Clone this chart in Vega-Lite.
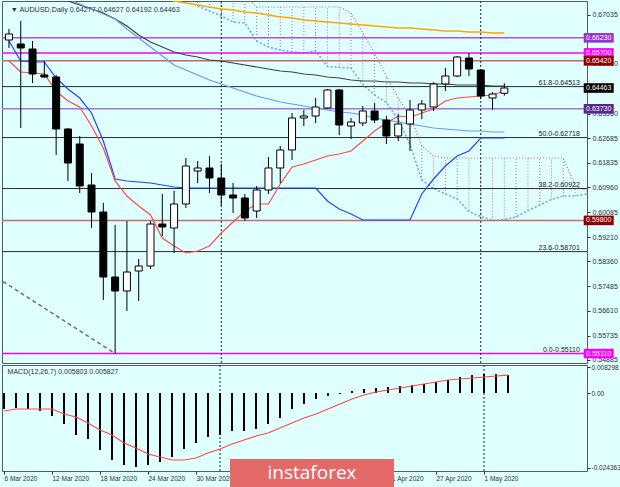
{
  "$schema": "https://vega.github.io/schema/vega-lite/v6.json",
  "padding": 0,
  "background": "#e0ffff",
  "spacing": 2,
  "bounds": "flush",
  "resolve": {"scale": {"x": "independent", "y": "independent"}},
  "config": {
    "view": {"stroke": "#5a5a5a", "fill": "#e0ffff"},
    "axis": {"labelFont": "Liberation Sans", "labelFontSize": 7, "labelColor": "#303030", "tickColor": "#303030", "domain": false, "grid": false},
    "text": {"font": "Liberation Sans"}
  },
  "datasets": {
    "candles": [
      {"i":0,"o":0.66154,"h":0.66542,"l":0.65873,"c":0.66366},
      {"i":1,"o":0.66014,"h":0.66824,"l":0.63055,"c":0.65873},
      {"i":2,"o":0.65837,"h":0.66119,"l":0.6464,"c":0.64957},
      {"i":3,"o":0.64922,"h":0.65415,"l":0.64816,"c":0.64851},
      {"i":4,"o":0.64851,"h":0.64922,"l":0.62104,"c":0.63019},
      {"i":5,"o":0.63019,"h":0.63055,"l":0.61188,"c":0.61822},
      {"i":6,"o":0.62491,"h":0.62773,"l":0.60765,"c":0.61012},
      {"i":7,"o":0.61047,"h":0.6147,"l":0.59532,"c":0.60096},
      {"i":8,"o":0.60096,"h":0.60413,"l":0.56996,"c":0.57806},
      {"i":9,"o":0.57806,"h":0.59638,"l":0.5511,"c":0.57313},
      {"i":10,"o":0.57313,"h":0.59779,"l":0.56609,"c":0.57982},
      {"i":11,"o":0.58018,"h":0.5844,"l":0.56961,"c":0.58194},
      {"i":12,"o":0.58194,"h":0.59779,"l":0.58088,"c":0.59673},
      {"i":13,"o":0.59673,"h":0.6073,"l":0.5925,"c":0.59568},
      {"i":14,"o":0.59532,"h":0.60836,"l":0.58652,"c":0.60378},
      {"i":15,"o":0.60378,"h":0.61998,"l":0.60237,"c":0.61716},
      {"i":16,"o":0.6154,"h":0.61892,"l":0.61117,"c":0.61646},
      {"i":17,"o":0.61646,"h":0.62068,"l":0.60765,"c":0.61293},
      {"i":18,"o":0.61293,"h":0.61787,"l":0.60307,"c":0.60695},
      {"i":19,"o":0.60695,"h":0.61117,"l":0.60061,"c":0.60589},
      {"i":20,"o":0.60589,"h":0.6073,"l":0.59779,"c":0.59885},
      {"i":21,"o":0.60131,"h":0.61012,"l":0.59885,"c":0.60871},
      {"i":22,"o":0.60871,"h":0.62033,"l":0.6073,"c":0.61646},
      {"i":23,"o":0.61646,"h":0.62421,"l":0.61117,"c":0.6228},
      {"i":24,"o":0.6228,"h":0.63583,"l":0.61928,"c":0.63407},
      {"i":25,"o":0.63407,"h":0.63689,"l":0.63125,"c":0.63477},
      {"i":26,"o":0.63477,"h":0.64111,"l":0.63231,"c":0.63794},
      {"i":27,"o":0.63759,"h":0.64428,"l":0.63724,"c":0.64393},
      {"i":28,"o":0.64393,"h":0.64428,"l":0.62808,"c":0.6316},
      {"i":29,"o":0.63125,"h":0.63407,"l":0.62667,"c":0.63266},
      {"i":30,"o":0.63231,"h":0.6383,"l":0.63125,"c":0.63653},
      {"i":31,"o":0.63653,"h":0.63935,"l":0.63231,"c":0.63336},
      {"i":32,"o":0.63336,"h":0.63477,"l":0.62491,"c":0.62773},
      {"i":33,"o":0.62773,"h":0.63548,"l":0.62597,"c":0.63196},
      {"i":34,"o":0.63196,"h":0.64041,"l":0.62245,"c":0.63689},
      {"i":35,"o":0.63689,"h":0.64041,"l":0.63372,"c":0.639},
      {"i":36,"o":0.63794,"h":0.64675,"l":0.63653,"c":0.64605},
      {"i":37,"o":0.64605,"h":0.65168,"l":0.64358,"c":0.64886},
      {"i":38,"o":0.64886,"h":0.65591,"l":0.64851,"c":0.65556},
      {"i":39,"o":0.6552,"h":0.65696,"l":0.64886,"c":0.65133},
      {"i":40,"o":0.65098,"h":0.65133,"l":0.64076,"c":0.64182},
      {"i":41,"o":0.64111,"h":0.64323,"l":0.63689,"c":0.64252},
      {"i":42,"o":0.64277,"h":0.64627,"l":0.64192,"c":0.64463}
    ],
    "ind": [
      {"i":0,"ma1":null,"ma2":null,"ma3":null,"tk":0.65415,"kj":0.66119},
      {"i":1,"ma1":null,"ma2":null,"ma3":null,"tk":0.65027,"kj":0.65415},
      {"i":2,"ma1":null,"ma2":null,"ma3":null,"tk":0.64992,"kj":0.65379},
      {"i":3,"ma1":0.681,"ma2":null,"ma3":null,"tk":0.64957,"kj":0.65379},
      {"i":4,"ma1":0.67775,"ma2":0.6802,"ma3":null,"tk":0.64358,"kj":0.64816},
      {"i":5,"ma1":0.67528,"ma2":0.67599,"ma3":null,"tk":0.64006,"kj":0.64428},
      {"i":6,"ma1":0.67387,"ma2":0.67422,"ma3":null,"tk":0.63794,"kj":0.64111},
      {"i":7,"ma1":0.67246,"ma2":0.67246,"ma3":null,"tk":0.63125,"kj":0.63583},
      {"i":8,"ma1":0.67105,"ma2":0.6707,"ma3":null,"tk":0.6235,"kj":0.62597},
      {"i":9,"ma1":0.66894,"ma2":0.66894,"ma3":null,"tk":0.61188,"kj":0.61258},
      {"i":10,"ma1":0.66648,"ma2":0.66542,"ma3":null,"tk":0.60659,"kj":0.61188},
      {"i":11,"ma1":0.66331,"ma2":0.66225,"ma3":null,"tk":0.60307,"kj":0.61153},
      {"i":12,"ma1":0.66084,"ma2":0.65908,"ma3":null,"tk":0.5999,"kj":0.61117},
      {"i":13,"ma1":0.65908,"ma2":0.65591,"ma3":0.67634,"tk":0.5918,"kj":0.61047},
      {"i":14,"ma1":0.65732,"ma2":0.65274,"ma3":0.67528,"tk":0.58898,"kj":0.60976},
      {"i":15,"ma1":0.65626,"ma2":0.65098,"ma3":0.67458,"tk":0.58652,"kj":0.60941},
      {"i":16,"ma1":0.65556,"ma2":0.64922,"ma3":0.67387,"tk":0.58722,"kj":0.60941},
      {"i":17,"ma1":0.6545,"ma2":0.64745,"ma3":0.67317,"tk":0.58898,"kj":0.60941},
      {"i":18,"ma1":0.65415,"ma2":0.64605,"ma3":0.67246,"tk":0.59356,"kj":0.60941},
      {"i":19,"ma1":0.65344,"ma2":0.64464,"ma3":0.67211,"tk":0.59744,"kj":0.60941},
      {"i":20,"ma1":0.65274,"ma2":0.64323,"ma3":0.67141,"tk":0.60131,"kj":0.60941},
      {"i":21,"ma1":0.65203,"ma2":0.64182,"ma3":0.67105,"tk":0.60378,"kj":0.60941},
      {"i":22,"ma1":0.65133,"ma2":0.64076,"ma3":0.67035,"tk":0.60378,"kj":0.60941},
      {"i":23,"ma1":0.65062,"ma2":0.63971,"ma3":0.66965,"tk":0.61082,"kj":0.60941},
      {"i":24,"ma1":0.65027,"ma2":0.639,"ma3":0.66929,"tk":0.61681,"kj":0.60941},
      {"i":25,"ma1":0.64957,"ma2":0.6383,"ma3":0.66859,"tk":0.61787,"kj":0.60941},
      {"i":26,"ma1":0.64922,"ma2":0.63759,"ma3":0.66824,"tk":0.61928,"kj":0.60941},
      {"i":27,"ma1":0.64851,"ma2":0.63689,"ma3":0.66788,"tk":0.62068,"kj":0.60483},
      {"i":28,"ma1":0.64816,"ma2":0.63618,"ma3":0.66753,"tk":0.62139,"kj":0.60201},
      {"i":29,"ma1":0.64745,"ma2":0.63583,"ma3":0.66718,"tk":0.62245,"kj":0.60025},
      {"i":30,"ma1":0.6471,"ma2":0.63513,"ma3":0.66683,"tk":0.62597,"kj":0.59814},
      {"i":31,"ma1":0.6471,"ma2":0.63407,"ma3":0.66648,"tk":0.62949,"kj":0.59814},
      {"i":32,"ma1":0.64675,"ma2":0.63336,"ma3":0.66612,"tk":0.63231,"kj":0.59814},
      {"i":33,"ma1":0.64675,"ma2":0.63266,"ma3":0.66577,"tk":0.63477,"kj":0.59814},
      {"i":34,"ma1":0.6464,"ma2":0.63196,"ma3":0.66577,"tk":0.63442,"kj":0.59814},
      {"i":35,"ma1":0.6464,"ma2":0.63125,"ma3":0.66542,"tk":0.63583,"kj":0.6073},
      {"i":36,"ma1":0.64605,"ma2":0.63055,"ma3":0.66507,"tk":0.63724,"kj":0.61258},
      {"i":37,"ma1":0.64605,"ma2":0.63019,"ma3":0.66471,"tk":0.64006,"kj":0.61716},
      {"i":38,"ma1":0.64569,"ma2":0.62984,"ma3":0.66471,"tk":0.64111,"kj":0.62068},
      {"i":39,"ma1":0.64569,"ma2":0.62949,"ma3":0.66436,"tk":0.64147,"kj":0.62245},
      {"i":40,"ma1":0.64569,"ma2":0.62949,"ma3":0.66436,"tk":0.64182,"kj":0.62702},
      {"i":41,"ma1":0.64534,"ma2":0.62914,"ma3":0.66401,"tk":0.64217,"kj":0.62702},
      {"i":42,"ma1":0.64534,"ma2":0.62914,"ma3":0.66401,"tk":0.64358,"kj":0.62702}
    ],
    "cloud": [
      {"i":16,"sa":0.67352,"sb":0.67704},
      {"i":17,"sa":0.67176,"sb":0.67704},
      {"i":18,"sa":0.67,"sb":0.67704},
      {"i":19,"sa":0.66788,"sb":0.67704},
      {"i":20,"sa":0.66753,"sb":0.67704},
      {"i":21,"sa":0.66119,"sb":0.67317},
      {"i":22,"sa":0.65908,"sb":0.67317},
      {"i":23,"sa":0.65802,"sb":0.67317},
      {"i":24,"sa":0.65732,"sb":0.67317},
      {"i":25,"sa":0.65696,"sb":0.67317},
      {"i":26,"sa":0.65767,"sb":0.67317},
      {"i":27,"sa":0.65221,"sb":0.67317},
      {"i":28,"sa":0.65186,"sb":0.67317},
      {"i":29,"sa":0.65168,"sb":0.67105},
      {"i":30,"sa":0.64587,"sb":0.66401},
      {"i":31,"sa":0.64217,"sb":0.65696},
      {"i":32,"sa":0.63953,"sb":0.64886},
      {"i":33,"sa":0.63354,"sb":0.64111},
      {"i":34,"sa":0.62474,"sb":0.63477},
      {"i":35,"sa":0.61223,"sb":0.62421},
      {"i":36,"sa":0.60924,"sb":0.62068},
      {"i":37,"sa":0.6073,"sb":0.61998},
      {"i":38,"sa":0.60554,"sb":0.61998},
      {"i":39,"sa":0.60113,"sb":0.61998},
      {"i":40,"sa":0.59937,"sb":0.61998},
      {"i":41,"sa":0.59796,"sb":0.61998},
      {"i":42,"sa":0.59831,"sb":0.61998},
      {"i":43,"sa":0.5992,"sb":0.61998},
      {"i":44,"sa":0.60149,"sb":0.61998},
      {"i":45,"sa":0.60342,"sb":0.61998},
      {"i":46,"sa":0.60536,"sb":0.61998},
      {"i":47,"sa":0.60659,"sb":0.61998},
      {"i":48,"sa":0.60659,"sb":0.61012},
      {"i":49,"sa":0.6073,"sb":0.60835}
    ],
    "trend": [{"i":-1,"p":0.5778},{"i":9,"p":0.5511}],
    "seps": [{"i":18},{"i":40}],
    "levels": [
      {"p":0.6623,"k":"a"},{"p":0.657,"k":"b"},{"p":0.6542,"k":"c"},
      {"p":0.6373,"k":"d"},{"p":0.598,"k":"e"},{"p":0.5511,"k":"b"}
    ],
    "fibs": [
      {"p":0.64513,"t":"61.8-0.64513"},{"p":0.62718,"t":"50.0-0.62718"},
      {"p":0.60922,"t":"38.2-0.60922"},{"p":0.58701,"t":"23.6-0.58701"},
      {"p":0.5511,"t":"0.0-0.55110"}
    ],
    "boxes": [
      {"p":0.6623,"t":"0.66230","k":"a"},{"p":0.657,"t":"0.65700","k":"b"},
      {"p":0.6542,"t":"0.65420","k":"c"},{"p":0.64463,"t":"0.64463","k":"f"},
      {"p":0.6373,"t":"0.63730","k":"d"},{"p":0.598,"t":"0.59800","k":"c"},
      {"p":0.5511,"t":"0.55110","k":"b"}
    ],
    "macd": [
      {"i":0,"m":-0.0052,"s":-0.00585},{"i":1,"m":-0.00487,"s":-0.0052},
      {"i":2,"m":-0.0052,"s":-0.0052},{"i":3,"m":-0.00585,"s":-0.0052},
      {"i":4,"m":-0.00747,"s":-0.0052},{"i":5,"m":-0.01007,"s":-0.00682},
      {"i":6,"m":-0.01365,"s":-0.0078},{"i":7,"m":-0.01494,"s":-0.00975},
      {"i":8,"m":-0.01852,"s":-0.01202},{"i":9,"m":-0.02177,"s":-0.01365},
      {"i":10,"m":-0.02339,"s":-0.01624},{"i":11,"m":-0.02404,"s":-0.01787},
      {"i":12,"m":-0.02339,"s":-0.01982},{"i":13,"m":-0.02242,"s":-0.02079},
      {"i":14,"m":-0.02079,"s":-0.02177},{"i":15,"m":-0.01819,"s":-0.02177},
      {"i":16,"m":-0.01624,"s":-0.02112},{"i":17,"m":-0.0143,"s":-0.01949},
      {"i":18,"m":-0.01365,"s":-0.01819},{"i":19,"m":-0.01235,"s":-0.01657},
      {"i":20,"m":-0.01235,"s":-0.01527},{"i":21,"m":-0.0117,"s":-0.01397},
      {"i":22,"m":-0.01007,"s":-0.013},{"i":23,"m":-0.00812,"s":-0.01137},
      {"i":24,"m":-0.0052,"s":-0.00975},{"i":25,"m":-0.00357,"s":-0.00812},
      {"i":26,"m":-0.00195,"s":-0.00682},{"i":27,"m":-0.00097,"s":-0.0052},
      {"i":28,"m":-0.00032,"s":-0.00357},{"i":29,"m":0.00065,"s":-0.00195},
      {"i":30,"m":0.0013,"s":-0.00065},{"i":31,"m":0.00162,"s":0.00032},
      {"i":32,"m":0.00195,"s":0.00097},{"i":33,"m":0.00227,"s":0.00162},
      {"i":34,"m":0.0026,"s":0.00227},{"i":35,"m":0.00292,"s":0.00292},
      {"i":36,"m":0.00357,"s":0.00357},{"i":37,"m":0.00422,"s":0.00422},
      {"i":38,"m":0.0052,"s":0.00455},{"i":39,"m":0.00585,"s":0.00487},
      {"i":40,"m":0.00617,"s":0.0052},{"i":41,"m":0.00617,"s":0.00552},
      {"i":42,"m":0.005803,"s":0.005827}
    ]
  },
  "vconcat": [
    {
      "width": 585,
      "height": 362,
      "layer": [
        {
          "data": {"name": "cloud"},
          "mark": {"type": "rule", "strokeDash": [1, 2], "color": "#c07070", "strokeWidth": 1, "clip": true},
          "encoding": {
            "x": {"field": "i", "type": "quantitative", "scale": {"domain": [-0.1667, 48.5833], "nice": false, "zero": false}, "axis": null},
            "y": {"field": "sa", "type": "quantitative", "title": null, "scale": {"domain": [0.54777, 0.67528], "nice": false, "zero": false}, "axis": {"orient": "right", "title": null, "values": [0.67035, 0.6531, 0.6356, 0.62685, 0.61835, 0.6096, 0.60085, 0.5921, 0.5836, 0.57485, 0.5661, 0.55735, 0.54885], "format": ".5f", "tickSize": 3, "labelPadding": 2}},
            "y2": {"field": "sb"}
          }
        },
        {
          "data": {"name": "cloud"},
          "mark": {"type": "line", "strokeDash": [1, 2], "color": "#c07070", "strokeWidth": 1.2, "clip": true},
          "encoding": {
            "x": {"field": "i", "type": "quantitative", "scale": {"domain": [-0.1667, 48.5833], "nice": false, "zero": false}, "axis": null},
            "y": {"field": "sb", "type": "quantitative", "title": null, "scale": {"domain": [0.54777, 0.67528], "nice": false, "zero": false}, "axis": {"orient": "right", "title": null, "values": [0.67035, 0.6531, 0.6356, 0.62685, 0.61835, 0.6096, 0.60085, 0.5921, 0.5836, 0.57485, 0.5661, 0.55735, 0.54885], "format": ".5f", "tickSize": 3, "labelPadding": 2}}
          }
        },
        {
          "data": {"name": "cloud"},
          "mark": {"type": "line", "strokeDash": [2, 2], "color": "#6aaaf0", "strokeWidth": 1.6, "clip": true},
          "encoding": {
            "x": {"field": "i", "type": "quantitative", "scale": {"domain": [-0.1667, 48.5833], "nice": false, "zero": false}, "axis": null},
            "y": {"field": "sa", "type": "quantitative", "title": null, "scale": {"domain": [0.54777, 0.67528], "nice": false, "zero": false}, "axis": {"orient": "right", "title": null, "values": [0.67035, 0.6531, 0.6356, 0.62685, 0.61835, 0.6096, 0.60085, 0.5921, 0.5836, 0.57485, 0.5661, 0.55735, 0.54885], "format": ".5f", "tickSize": 3, "labelPadding": 2}}
          }
        },
        {
          "data": {"name": "fibs"},
          "mark": {"type": "rule", "color": "#2a2a2a", "strokeWidth": 1},
          "encoding": {
            "y": {"field": "p", "type": "quantitative", "title": null, "scale": {"domain": [0.54777, 0.67528], "nice": false, "zero": false}, "axis": {"orient": "right", "title": null, "values": [0.67035, 0.6531, 0.6356, 0.62685, 0.61835, 0.6096, 0.60085, 0.5921, 0.5836, 0.57485, 0.5661, 0.55735, 0.54885], "format": ".5f", "tickSize": 3, "labelPadding": 2}}
          }
        },
        {
          "data": {"name": "levels"},
          "mark": {"type": "rule", "strokeWidth": 1.5},
          "encoding": {
            "y": {"field": "p", "type": "quantitative", "title": null, "scale": {"domain": [0.54777, 0.67528], "nice": false, "zero": false}, "axis": {"orient": "right", "title": null, "values": [0.67035, 0.6531, 0.6356, 0.62685, 0.61835, 0.6096, 0.60085, 0.5921, 0.5836, 0.57485, 0.5661, 0.55735, 0.54885], "format": ".5f", "tickSize": 3, "labelPadding": 2}},
            "stroke": {"field": "k", "type": "nominal", "scale": {"domain": ["a", "b", "c", "d", "e"], "range": ["#b050e0", "#ff00ff", "#b86a6a", "#9a7ad8", "#c07070"]}, "legend": null}
          }
        },
        {
          "data": {"name": "seps"},
          "mark": {"type": "rule", "strokeDash": [2, 2], "color": "#202020", "strokeWidth": 1},
          "encoding": {
            "x": {"field": "i", "type": "quantitative", "scale": {"domain": [-0.1667, 48.5833], "nice": false, "zero": false}, "axis": null}
          }
        },
        {
          "data": {"name": "trend"},
          "mark": {"type": "line", "strokeDash": [4, 3], "color": "#707070", "strokeWidth": 1.5, "clip": true},
          "encoding": {
            "x": {"field": "i", "type": "quantitative", "scale": {"domain": [-0.1667, 48.5833], "nice": false, "zero": false}, "axis": null},
            "y": {"field": "p", "type": "quantitative", "title": null, "scale": {"domain": [0.54777, 0.67528], "nice": false, "zero": false}, "axis": {"orient": "right", "title": null, "values": [0.67035, 0.6531, 0.6356, 0.62685, 0.61835, 0.6096, 0.60085, 0.5921, 0.5836, 0.57485, 0.5661, 0.55735, 0.54885], "format": ".5f", "tickSize": 3, "labelPadding": 2}}
          }
        },
        {
          "data": {"name": "ind"},
          "mark": {"type": "line", "color": "#ffa500", "strokeWidth": 1.5, "clip": true},
          "encoding": {
            "x": {"field": "i", "type": "quantitative", "scale": {"domain": [-0.1667, 48.5833], "nice": false, "zero": false}, "axis": null},
            "y": {"field": "ma3", "type": "quantitative", "title": null, "scale": {"domain": [0.54777, 0.67528], "nice": false, "zero": false}, "axis": {"orient": "right", "title": null, "values": [0.67035, 0.6531, 0.6356, 0.62685, 0.61835, 0.6096, 0.60085, 0.5921, 0.5836, 0.57485, 0.5661, 0.55735, 0.54885], "format": ".5f", "tickSize": 3, "labelPadding": 2}}
          }
        },
        {
          "data": {"name": "ind"},
          "mark": {"type": "line", "color": "#404040", "strokeWidth": 1.2, "clip": true},
          "encoding": {
            "x": {"field": "i", "type": "quantitative", "scale": {"domain": [-0.1667, 48.5833], "nice": false, "zero": false}, "axis": null},
            "y": {"field": "ma1", "type": "quantitative", "title": null, "scale": {"domain": [0.54777, 0.67528], "nice": false, "zero": false}, "axis": {"orient": "right", "title": null, "values": [0.67035, 0.6531, 0.6356, 0.62685, 0.61835, 0.6096, 0.60085, 0.5921, 0.5836, 0.57485, 0.5661, 0.55735, 0.54885], "format": ".5f", "tickSize": 3, "labelPadding": 2}}
          }
        },
        {
          "data": {"name": "ind"},
          "mark": {"type": "line", "color": "#6f95ee", "strokeWidth": 1.2, "clip": true},
          "encoding": {
            "x": {"field": "i", "type": "quantitative", "scale": {"domain": [-0.1667, 48.5833], "nice": false, "zero": false}, "axis": null},
            "y": {"field": "ma2", "type": "quantitative", "title": null, "scale": {"domain": [0.54777, 0.67528], "nice": false, "zero": false}, "axis": {"orient": "right", "title": null, "values": [0.67035, 0.6531, 0.6356, 0.62685, 0.61835, 0.6096, 0.60085, 0.5921, 0.5836, 0.57485, 0.5661, 0.55735, 0.54885], "format": ".5f", "tickSize": 3, "labelPadding": 2}}
          }
        },
        {
          "data": {"name": "ind"},
          "mark": {"type": "line", "color": "#2244ff", "strokeWidth": 1.2, "clip": true},
          "encoding": {
            "x": {"field": "i", "type": "quantitative", "scale": {"domain": [-0.1667, 48.5833], "nice": false, "zero": false}, "axis": null},
            "y": {"field": "kj", "type": "quantitative", "title": null, "scale": {"domain": [0.54777, 0.67528], "nice": false, "zero": false}, "axis": {"orient": "right", "title": null, "values": [0.67035, 0.6531, 0.6356, 0.62685, 0.61835, 0.6096, 0.60085, 0.5921, 0.5836, 0.57485, 0.5661, 0.55735, 0.54885], "format": ".5f", "tickSize": 3, "labelPadding": 2}}
          }
        },
        {
          "data": {"name": "ind"},
          "mark": {"type": "line", "color": "#ff4a4a", "strokeWidth": 1.2, "clip": true},
          "encoding": {
            "x": {"field": "i", "type": "quantitative", "scale": {"domain": [-0.1667, 48.5833], "nice": false, "zero": false}, "axis": null},
            "y": {"field": "tk", "type": "quantitative", "title": null, "scale": {"domain": [0.54777, 0.67528], "nice": false, "zero": false}, "axis": {"orient": "right", "title": null, "values": [0.67035, 0.6531, 0.6356, 0.62685, 0.61835, 0.6096, 0.60085, 0.5921, 0.5836, 0.57485, 0.5661, 0.55735, 0.54885], "format": ".5f", "tickSize": 3, "labelPadding": 2}}
          }
        },
        {
          "data": {"name": "candles"},
          "mark": {"type": "rule", "color": "#000000", "strokeWidth": 1, "clip": true},
          "encoding": {
            "x": {"field": "i", "type": "quantitative", "scale": {"domain": [-0.1667, 48.5833], "nice": false, "zero": false}, "axis": null},
            "y": {"field": "l", "type": "quantitative", "title": null, "scale": {"domain": [0.54777, 0.67528], "nice": false, "zero": false}, "axis": {"orient": "right", "title": null, "values": [0.67035, 0.6531, 0.6356, 0.62685, 0.61835, 0.6096, 0.60085, 0.5921, 0.5836, 0.57485, 0.5661, 0.55735, 0.54885], "format": ".5f", "tickSize": 3, "labelPadding": 2}},
            "y2": {"field": "h"}
          }
        },
        {
          "data": {"name": "candles"},
          "mark": {"type": "bar", "width": 7, "stroke": "#000000", "strokeWidth": 1, "clip": true},
          "encoding": {
            "x": {"field": "i", "type": "quantitative", "scale": {"domain": [-0.1667, 48.5833], "nice": false, "zero": false}, "axis": null},
            "y": {"field": "o", "type": "quantitative", "title": null, "scale": {"domain": [0.54777, 0.67528], "nice": false, "zero": false}, "axis": {"orient": "right", "title": null, "values": [0.67035, 0.6531, 0.6356, 0.62685, 0.61835, 0.6096, 0.60085, 0.5921, 0.5836, 0.57485, 0.5661, 0.55735, 0.54885], "format": ".5f", "tickSize": 3, "labelPadding": 2}},
            "y2": {"field": "c"},
            "fill": {"condition": {"test": "datum.c >= datum.o", "value": "#ffffff"}, "value": "#000000"}
          }
        },
        {
          "data": {"name": "fibs"},
          "mark": {"type": "text", "align": "right", "baseline": "bottom", "fontSize": 7, "color": "#202020", "dy": -0.5},
          "encoding": {
            "x": {"datum": 48.4, "type": "quantitative", "scale": {"domain": [-0.1667, 48.5833], "nice": false, "zero": false}, "axis": null},
            "y": {"field": "p", "type": "quantitative", "title": null, "scale": {"domain": [0.54777, 0.67528], "nice": false, "zero": false}, "axis": {"orient": "right", "title": null, "values": [0.67035, 0.6531, 0.6356, 0.62685, 0.61835, 0.6096, 0.60085, 0.5921, 0.5836, 0.57485, 0.5661, 0.55735, 0.54885], "format": ".5f", "tickSize": 3, "labelPadding": 2}},
            "text": {"field": "t", "type": "nominal"}
          }
        },
        {
          "data": {"values": [{}]},
          "mark": {"type": "text", "text": "▼  AUDUSD,Daily  0.64277 0.64627 0.64192 0.64463", "align": "left", "baseline": "middle", "fontSize": 7.2, "color": "#303030"},
          "encoding": {
            "x": {"datum": 0.15, "type": "quantitative", "scale": {"domain": [-0.1667, 48.5833], "nice": false, "zero": false}, "axis": null},
            "y": {"datum": 0.67228, "type": "quantitative", "title": null, "scale": {"domain": [0.54777, 0.67528], "nice": false, "zero": false}, "axis": {"orient": "right", "title": null, "values": [0.67035, 0.6531, 0.6356, 0.62685, 0.61835, 0.6096, 0.60085, 0.5921, 0.5836, 0.57485, 0.5661, 0.55735, 0.54885], "format": ".5f", "tickSize": 3, "labelPadding": 2}}
          }
        },
        {
          "data": {"name": "boxes"},
          "mark": {"type": "point", "shape": "M-1,-0.32H1V0.32H-1Z", "size": 900, "filled": true, "opacity": 1},
          "encoding": {
            "x": {"datum": 50, "type": "quantitative", "scale": {"domain": [-0.1667, 48.5833], "nice": false, "zero": false}, "axis": null},
            "y": {"field": "p", "type": "quantitative", "title": null, "scale": {"domain": [0.54777, 0.67528], "nice": false, "zero": false}, "axis": {"orient": "right", "title": null, "values": [0.67035, 0.6531, 0.6356, 0.62685, 0.61835, 0.6096, 0.60085, 0.5921, 0.5836, 0.57485, 0.5661, 0.55735, 0.54885], "format": ".5f", "tickSize": 3, "labelPadding": 2}},
            "fill": {"field": "k", "type": "nominal", "scale": {"domain": ["a", "b", "c", "d", "f"], "range": ["#9932cc", "#ff00ff", "#8b0000", "#55288c", "#000000"]}, "legend": null}
          }
        },
        {
          "data": {"name": "boxes"},
          "mark": {"type": "text", "align": "center", "baseline": "middle", "fontSize": 7, "color": "#ffffff"},
          "encoding": {
            "x": {"datum": 50, "type": "quantitative", "scale": {"domain": [-0.1667, 48.5833], "nice": false, "zero": false}, "axis": null},
            "y": {"field": "p", "type": "quantitative", "title": null, "scale": {"domain": [0.54777, 0.67528], "nice": false, "zero": false}, "axis": {"orient": "right", "title": null, "values": [0.67035, 0.6531, 0.6356, 0.62685, 0.61835, 0.6096, 0.60085, 0.5921, 0.5836, 0.57485, 0.5661, 0.55735, 0.54885], "format": ".5f", "tickSize": 3, "labelPadding": 2}},
            "text": {"field": "t", "type": "nominal"}
          }
        }
      ]
    },
    {
      "width": 585,
      "height": 106,
      "layer": [
        {
          "data": {"name": "seps"},
          "mark": {"type": "rule", "strokeDash": [2, 2], "color": "#202020", "strokeWidth": 1},
          "encoding": {
            "x": {"field": "i", "type": "quantitative", "title": null, "scale": {"domain": [-0.1667, 48.5833], "nice": false, "zero": false},
              "axis": {"orient": "bottom", "title": null, "values": [0, 4, 8, 12, 16, 32, 36, 40], "labelExpr": "['6 Mar 2020','12 Mar 2020','18 Mar 2020','24 Mar 2020','30 Mar 2020','3 Apr 2020','9 Apr 2020','15 Apr 2020','21 Apr 2020','27 Apr 2020','1 May 2020'][round(datum.value/4)]", "labelAlign": "left", "labelPadding": 1, "tickSize": 3, "labelFontSize": 6.5, "labelOverlap": false, "labelFlush": false, "labelBound": false}}
          }
        },
        {
          "data": {"name": "macd"},
          "mark": {"type": "rule", "color": "#000000", "strokeWidth": 2},
          "encoding": {
            "x": {"field": "i", "type": "quantitative", "title": null, "scale": {"domain": [-0.1667, 48.5833], "nice": false, "zero": false},
              "axis": {"orient": "bottom", "title": null, "values": [0, 4, 8, 12, 16, 32, 36, 40], "labelExpr": "['6 Mar 2020','12 Mar 2020','18 Mar 2020','24 Mar 2020','30 Mar 2020','3 Apr 2020','9 Apr 2020','15 Apr 2020','21 Apr 2020','27 Apr 2020','1 May 2020'][round(datum.value/4)]", "labelAlign": "left", "labelPadding": 1, "tickSize": 3, "labelFontSize": 6.5, "labelOverlap": false, "labelFlush": false, "labelBound": false}},
            "y": {"field": "m", "type": "quantitative", "title": null, "scale": {"domain": [-0.02534, 0.0091], "nice": false, "zero": false},
              "axis": {"orient": "right", "title": null, "values": [0.008298, 0, -0.024363], "labelExpr": "datum.value > 0.001 ? '0.008298' : (datum.value < -0.01 ? '-0.024363' : '0.00')", "tickSize": 3, "labelPadding": 1, "labelFontSize": 6.5}},
            "y2": {"datum": 0}
          }
        },
        {
          "data": {"name": "macd"},
          "mark": {"type": "line", "color": "#ff4a4a", "strokeWidth": 1.2},
          "encoding": {
            "x": {"field": "i", "type": "quantitative", "title": null, "scale": {"domain": [-0.1667, 48.5833], "nice": false, "zero": false},
              "axis": {"orient": "bottom", "title": null, "values": [0, 4, 8, 12, 16, 32, 36, 40], "labelExpr": "['6 Mar 2020','12 Mar 2020','18 Mar 2020','24 Mar 2020','30 Mar 2020','3 Apr 2020','9 Apr 2020','15 Apr 2020','21 Apr 2020','27 Apr 2020','1 May 2020'][round(datum.value/4)]", "labelAlign": "left", "labelPadding": 1, "tickSize": 3, "labelFontSize": 6.5, "labelOverlap": false, "labelFlush": false, "labelBound": false}},
            "y": {"field": "s", "type": "quantitative", "title": null, "scale": {"domain": [-0.02534, 0.0091], "nice": false, "zero": false},
              "axis": {"orient": "right", "title": null, "values": [0.008298, 0, -0.024363], "labelExpr": "datum.value > 0.001 ? '0.008298' : (datum.value < -0.01 ? '-0.024363' : '0.00')", "tickSize": 3, "labelPadding": 1, "labelFontSize": 6.5}}
          }
        },
        {
          "data": {"values": [{}]},
          "mark": {"type": "text", "text": "MACD(12,26,7) 0.005803 0.005827", "align": "left", "baseline": "middle", "fontSize": 7, "color": "#303030"},
          "encoding": {
            "x": {"datum": 0.3, "type": "quantitative", "title": null, "scale": {"domain": [-0.1667, 48.5833], "nice": false, "zero": false},
              "axis": {"orient": "bottom", "title": null, "values": [0, 4, 8, 12, 16, 32, 36, 40], "labelExpr": "['6 Mar 2020','12 Mar 2020','18 Mar 2020','24 Mar 2020','30 Mar 2020','3 Apr 2020','9 Apr 2020','15 Apr 2020','21 Apr 2020','27 Apr 2020','1 May 2020'][round(datum.value/4)]", "labelAlign": "left", "labelPadding": 1, "tickSize": 3, "labelFontSize": 6.5, "labelOverlap": false, "labelFlush": false, "labelBound": false}},
            "y": {"datum": 0.0068, "type": "quantitative", "title": null, "scale": {"domain": [-0.02534, 0.0091], "nice": false, "zero": false},
              "axis": {"orient": "right", "title": null, "values": [0.008298, 0, -0.024363], "labelExpr": "datum.value > 0.001 ? '0.008298' : (datum.value < -0.01 ? '-0.024363' : '0.00')", "tickSize": 3, "labelPadding": 1, "labelFontSize": 6.5}}
          }
        },
        {
          "data": {"values": [{}]},
          "mark": {"type": "rect", "color": "#e36868", "opacity": 1},
          "encoding": {
            "x": {"datum": 18.83, "type": "quantitative", "title": null, "scale": {"domain": [-0.1667, 48.5833], "nice": false, "zero": false},
              "axis": {"orient": "bottom", "title": null, "values": [0, 4, 8, 12, 16, 32, 36, 40], "labelExpr": "['6 Mar 2020','12 Mar 2020','18 Mar 2020','24 Mar 2020','30 Mar 2020','3 Apr 2020','9 Apr 2020','15 Apr 2020','21 Apr 2020','27 Apr 2020','1 May 2020'][round(datum.value/4)]", "labelAlign": "left", "labelPadding": 1, "tickSize": 3, "labelFontSize": 6.5, "labelOverlap": false, "labelFlush": false, "labelBound": false}},
            "x2": {"datum": 32.5},
            "y": {"datum": -0.02143, "type": "quantitative", "title": null, "scale": {"domain": [-0.02534, 0.0091], "nice": false, "zero": false},
              "axis": {"orient": "right", "title": null, "values": [0.008298, 0, -0.024363], "labelExpr": "datum.value > 0.001 ? '0.008298' : (datum.value < -0.01 ? '-0.024363' : '0.00')", "tickSize": 3, "labelPadding": 1, "labelFontSize": 6.5}},
            "y2": {"datum": -0.03078}
          }
        },
        {
          "data": {"values": [{}]},
          "mark": {"type": "text", "text": "instaforex", "align": "center", "baseline": "alphabetic", "fontSize": 19, "font": "Open Sans", "color": "#ffffff"},
          "encoding": {
            "x": {"datum": 25.67, "type": "quantitative", "title": null, "scale": {"domain": [-0.1667, 48.5833], "nice": false, "zero": false},
              "axis": {"orient": "bottom", "title": null, "values": [0, 4, 8, 12, 16, 32, 36, 40], "labelExpr": "['6 Mar 2020','12 Mar 2020','18 Mar 2020','24 Mar 2020','30 Mar 2020','3 Apr 2020','9 Apr 2020','15 Apr 2020','21 Apr 2020','27 Apr 2020','1 May 2020'][round(datum.value/4)]", "labelAlign": "left", "labelPadding": 1, "tickSize": 3, "labelFontSize": 6.5, "labelOverlap": false, "labelFlush": false, "labelBound": false}},
            "y": {"datum": -0.02788, "type": "quantitative", "title": null, "scale": {"domain": [-0.02534, 0.0091], "nice": false, "zero": false},
              "axis": {"orient": "right", "title": null, "values": [0.008298, 0, -0.024363], "labelExpr": "datum.value > 0.001 ? '0.008298' : (datum.value < -0.01 ? '-0.024363' : '0.00')", "tickSize": 3, "labelPadding": 1, "labelFontSize": 6.5}}
          }
        }
      ]
    }
  ]
}
